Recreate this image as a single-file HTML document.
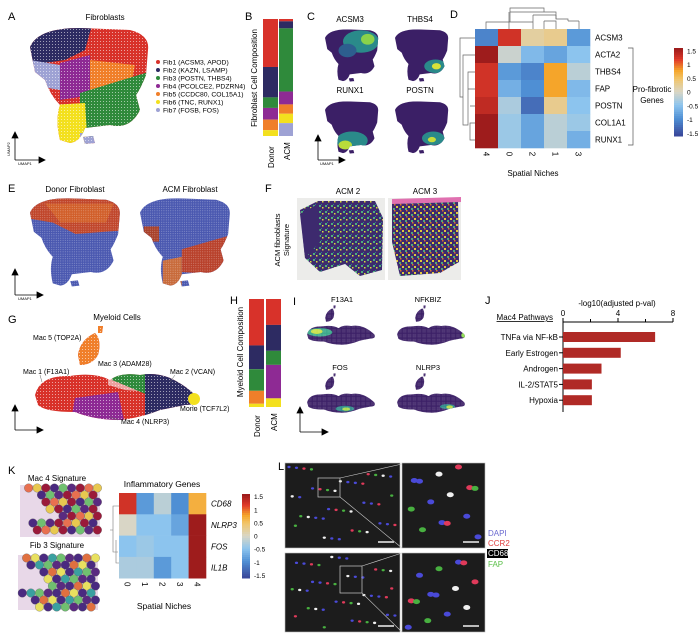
<!DOCTYPE html>
<html><head><meta charset="utf-8"><style>
html,body{margin:0;padding:0;background:#fff}
svg{display:block;font-family:"Liberation Sans",Arial,sans-serif}
</style></head><body>
<svg id="fig" width="700" height="639" viewBox="0 0 700 639">
<defs>
 <clipPath id="fibClip"><path id="fibShape" d="M0,22 Q8,3 50,3 L100,5 Q120,10 118,25 L116,50 Q110,65 106,70 L110,85 Q100,105 80,100 L55,103 Q50,117 40,118 L30,115 Q25,95 30,80 Q20,70 15,55 L5,47 Z M53,112 L63,111 L65,118 L55,119 Z"/></clipPath>
 <clipPath id="myeClip"><path d="M35,395 Q40,375 70,376 Q95,372 110,380 Q120,372 140,375 Q155,372 170,378 Q185,385 195,395 Q200,405 185,405 Q170,408 160,410 Q140,418 120,420 Q95,420 75,412 Q45,412 38,405 Z M78,355 Q80,340 95,333 Q102,340 98,355 Q92,365 80,365 Z M98,326 L103,326 L102,333 L98,333 Z"/></clipPath>
 <pattern id="speck" width="6" height="6" patternUnits="userSpaceOnUse"><rect width="6" height="6" fill="#3d2a6e"/><rect x="1" y="1" width="2" height="2" fill="#4fb07a"/><rect x="4" y="3" width="1.5" height="1.5" fill="#d9de3a"/><rect x="3" y="0" width="1" height="1" fill="#2a7e8e"/></pattern>
 <pattern id="speck2" width="6" height="6" patternUnits="userSpaceOnUse"><rect width="6" height="6" fill="#3d2a6e"/><rect x="0" y="2" width="2" height="2" fill="#e0c83a"/><rect x="3" y="4" width="2" height="2" fill="#52a878"/><rect x="4" y="0" width="1.5" height="1.5" fill="#e07030"/></pattern>
 <pattern id="dots" width="3" height="3" patternUnits="userSpaceOnUse"><rect width="3" height="3" fill="none"/><rect x="1" y="1" width="1" height="1" fill="#fff" opacity="0.55"/></pattern>
</defs>

<!-- Panel A -->
<g font-size="6.8">
 <text x="8" y="20" font-size="11">A</text>
 <text x="105" y="20" font-size="8" text-anchor="middle">Fibroblasts</text>
 <g transform="translate(30,25)" clip-path="url(#fibClip)">
  <rect x="0" y="0" width="125" height="125" fill="#d8322a"/>
  <path d="M0,0 L62,0 L55,25 L35,35 L0,40 Z" fill="#2d2b62"/>
  <path d="M0,35 L30,40 L30,65 L0,60 Z" fill="#9ea2d4"/>
  <path d="M30,38 L60,30 L62,70 L30,75 Z" fill="#8e2a94"/>
  <path d="M60,35 L105,40 L100,65 L60,70 Z" fill="#f07f2a"/>
  <path d="M50,68 L125,45 L125,125 L50,110 Z" fill="#2f8a3b"/>
  <path d="M20,80 L55,78 L58,125 L20,125 Z" fill="#f3e01e"/>
  <path d="M50,108 L70,108 L70,125 L50,125 Z" fill="#9ea2d4"/>
  <rect width="125" height="125" fill="url(#dots)"/>
 </g>
 <g>
  <circle cx="158" cy="62" r="2" fill="#d8322a"/><text x="163" y="64.5">Fib1 (ACSM3, APOD)</text>
  <circle cx="158" cy="70" r="2" fill="#2d2b62"/><text x="163" y="72.5">Fib2 (KAZN, LSAMP)</text>
  <circle cx="158" cy="78" r="2" fill="#2f8a3b"/><text x="163" y="80.5">Fib3 (POSTN, THBS4)</text>
  <circle cx="158" cy="86" r="2" fill="#8e2a94"/><text x="163" y="88.5">Fib4 (PCOLCE2, PDZRN4)</text>
  <circle cx="158" cy="94" r="2" fill="#f07f2a"/><text x="163" y="96.5">Fib5 (CCDC80, COL15A1)</text>
  <circle cx="158" cy="102" r="2" fill="#f3e01e"/><text x="163" y="104.5">Fib6 (TNC, RUNX1)</text>
  <circle cx="158" cy="110" r="2" fill="#9ea2d4"/><text x="163" y="112.5">Fib7 (FOSB, FOS)</text>
 </g>
 <g stroke="#000" stroke-width="0.8" fill="none">
  <path d="M15,160 L15,135 M15,160 L42,160"/><path d="M12,138 L15,132 L18,138 Z M39,157 L45,160 L39,163 Z" fill="#000"/>
 </g>
 <text x="18" y="165" font-size="4">UMAP1</text><text x="10" y="156" font-size="4" transform="rotate(-90 10 156)">UMAP2</text>
</g>

<!-- Panel B -->
<g>
 <text x="245" y="20" font-size="11">B</text>
 <text x="257" y="78" font-size="8" text-anchor="middle" transform="rotate(-90 257 78)">Fibroblast Cell Composition</text>
 <g id="barsB"></g>
 <text x="274" y="168" font-size="8" transform="rotate(-90 274 168)">Donor</text>
 <text x="290" y="160" font-size="8" transform="rotate(-90 290 160)">ACM</text>
</g>

<!-- Panel C -->
<g font-size="8">
 <text x="307" y="20" font-size="11">C</text>
 <text x="350" y="22" text-anchor="middle">ACSM3</text><text x="420" y="22" text-anchor="middle">THBS4</text>
 <text x="350" y="93" text-anchor="middle">RUNX1</text><text x="420" y="93" text-anchor="middle">POSTN</text>
 <g transform="translate(325,28) scale(0.45)" clip-path="url(#fibClip)">
  <rect width="125" height="125" fill="#3b1f66"/><ellipse cx="80" cy="30" rx="40" ry="25" fill="#2a8a8a"/><ellipse cx="95" cy="25" rx="15" ry="12" fill="#8ad24a"/><ellipse cx="50" cy="50" rx="20" ry="15" fill="#2d5e8e"/>
 </g>
 <g transform="translate(395,28) scale(0.45)" clip-path="url(#fibClip)">
  <rect width="125" height="125" fill="#3b1f66"/><ellipse cx="90" cy="85" rx="25" ry="15" fill="#2a8a8a"/><ellipse cx="92" cy="85" rx="10" ry="7" fill="#d8e23a"/>
 </g>
 <g transform="translate(325,100) scale(0.45)" clip-path="url(#fibClip)">
  <rect width="125" height="125" fill="#3b1f66"/><ellipse cx="60" cy="90" rx="35" ry="20" fill="#2a8a8a"/><ellipse cx="45" cy="100" rx="15" ry="10" fill="#b8dc3a"/>
 </g>
 <g transform="translate(395,100) scale(0.45)" clip-path="url(#fibClip)">
  <rect width="125" height="125" fill="#3b1f66"/><ellipse cx="85" cy="85" rx="25" ry="15" fill="#2a8a8a"/><ellipse cx="82" cy="88" rx="9" ry="6" fill="#c8dc3a"/>
 </g>
 <g stroke="#000" stroke-width="0.8" fill="none"><path d="M318,160 L318,138 M318,160 L342,160"/><path d="M315,141 L318,135 L321,141 Z M339,157 L345,160 L339,163 Z" fill="#000"/></g>
 <text x="320" y="165" font-size="4">UMAP1</text>
</g>

<!-- Panel D -->
<g>
 <text x="450" y="18" font-size="11">D</text>
 <g id="heatD"></g>
 <g stroke="#666" stroke-width="0.7" fill="none">
  <path d="M486,29 L486,22 L533,22 L533,29 M533,22 L533,15 M510,22 L510,12 L556,12 L556,19 M509,29 L509,12"/>
  <path d="M510,12 L510,8 L544,8 L544,12"/>
  <path d="M533,15 L556,15 M556,15 L556,19 L568,19 L568,21 M544,21 L556,21 L556,29 M579,21 L579,29 M568,21 L579,21 M544,21 L544,29"/>
  <path d="M475,38 L460,38 L460,97 L463,97 M475,55 L463,55 L463,125 L468,125 L468,72 L475,72 M468,89 L475,89 M470,106 L475,106 M470,140 L475,140 L470,140 L470,123 L475,123"/>
 </g>
 <path d="M628,48 L633,48 L633,145 L628,145" stroke="#555" fill="none" stroke-width="0.7"/>
 <text x="652" y="92" font-size="8" text-anchor="middle">Pro-fibrotic</text>
 <text x="652" y="103" font-size="8" text-anchor="middle">Genes</text>
 <text x="533" y="176" font-size="8" text-anchor="middle">Spatial Niches</text>
</g>

<!-- Panel E -->
<g font-size="8">
 <text x="8" y="192" font-size="11">E</text>
 <text x="75" y="192" text-anchor="middle">Donor Fibroblast</text>
 <text x="190" y="192" text-anchor="middle">ACM Fibroblast</text>
 <g transform="translate(30,196) scale(0.76)" clip-path="url(#fibClip)">
  <rect width="125" height="125" fill="#4a58b0"/><path d="M0,0 L125,0 L125,45 L60,50 L30,35 L0,30 Z" fill="#c0452a"/><path d="M20,10 L110,10 L100,35 L40,35 Z" fill="#d86a2a" opacity="0.7"/>
  <rect width="125" height="125" fill="url(#dots)"/>
 </g>
 <g transform="translate(140,196) scale(0.76)" clip-path="url(#fibClip)">
  <rect width="125" height="125" fill="#4a58b0"/><path d="M55,70 L125,50 L125,105 L55,100 Z" fill="#b8402a"/><path d="M5,40 L25,40 L25,60 L5,60 Z" fill="#a8402a"/><path d="M30,85 L55,80 L55,125 L30,125 Z" fill="#c86a3a"/>
  <rect width="125" height="125" fill="url(#dots)"/>
 </g>
 <g stroke="#000" stroke-width="0.8" fill="none"><path d="M15,295 L15,272 M15,295 L40,295"/><path d="M12,275 L15,269 L18,275 Z M37,292 L43,295 L37,298 Z" fill="#000"/></g>
 <text x="18" y="300" font-size="4">UMAP1</text>
</g>

<!-- Panel F -->
<g font-size="8">
 <text x="265" y="192" font-size="11">F</text>
 <text x="348" y="194" text-anchor="middle">ACM 2</text><text x="425" y="194" text-anchor="middle">ACM 3</text>
 <text x="280" y="240" text-anchor="middle" transform="rotate(-90 280 240)" font-size="7.5">ACM fibroblasts</text>
 <text x="289" y="240" text-anchor="middle" transform="rotate(-90 289 240)" font-size="7.5">Signature</text>
 <rect x="297" y="198" width="88" height="82" fill="#ececea"/>
 <path d="M300,210 L318,201 L375,201 L383,218 L382,270 L360,276 L345,264 L320,272 L305,258 Z" fill="url(#speck)"/>
 <path d="M300,214 L318,204 L320,242 L305,258 Z" fill="#3d2a6e"/>
 <rect x="388" y="198" width="73" height="82" fill="#ececea"/>
 <path d="M392,202 L458,200 L459,262 L440,273 L400,276 L392,242 Z" fill="url(#speck2)"/>
 <path d="M392,199 L461,197 L461,202 L392,204 Z" fill="#e070b0"/>
</g>

<!-- Panel G -->
<g font-size="7">
 <text x="8" y="323" font-size="11">G</text>
 <text x="117" y="320" text-anchor="middle" font-size="8">Myeloid Cells</text>
 <g clip-path="url(#myeClip)">
  <rect x="30" y="320" width="175" height="105" fill="#d8322a"/>
  <rect x="30" y="320" width="175" height="48" fill="#f07f2a"/>
  <path d="M75,398 L118,392 L125,425 L70,425 Z" fill="#8e2a94"/>
  <path d="M108,368 L148,368 L148,392 L125,390 L108,385 Z" fill="#ffffff" opacity="0.55"/>
  <path d="M112,368 L148,368 L148,395 L112,380 Z" fill="#2f8a3b"/>
  <path d="M145,368 L205,368 L205,425 L145,425 Z" fill="#2d2b62"/>
  <rect x="30" y="320" width="175" height="105" fill="url(#dots)"/>
 </g>
 <ellipse cx="194" cy="399" rx="6" ry="6" fill="#f3e01e"/>
 <g stroke="#666" stroke-width="0.5"><line x1="40" y1="375" x2="42" y2="382"/><line x1="175" y1="375" x2="170" y2="382"/><line x1="118" y1="420" x2="110" y2="417"/><line x1="192" y1="405" x2="196" y2="410"/></g>
 <text x="33" y="340">Mac 5 (TOP2A)</text>
 <text x="23" y="374">Mac 1 (F13A1)</text>
 <text x="98" y="366">Mac 3 (ADAM28)</text>
 <text x="170" y="374">Mac 2 (VCAN)</text>
 <text x="121" y="424">Mac 4 (NLRP3)</text>
 <text x="180" y="411">Mono (TCF7L2)</text>
 <g stroke="#000" stroke-width="0.8" fill="none"><path d="M15,430 L15,408 M15,430 L40,430"/><path d="M12,411 L15,405 L18,411 Z M37,427 L43,430 L37,433 Z" fill="#000"/></g>
</g>

<!-- Panel H -->
<g>
 <text x="230" y="304" font-size="11">H</text>
 <text x="243" y="352" font-size="8" text-anchor="middle" transform="rotate(-90 243 352)">Myeloid Cell Composition</text>
 <g id="barsH"></g>
 <text x="260" y="437" font-size="8" transform="rotate(-90 260 437)">Donor</text>
 <text x="277" y="431" font-size="8" transform="rotate(-90 277 431)">ACM</text>
</g>

<!-- Panel I -->
<g font-size="7.5">
 <text x="293" y="305" font-size="11">I</text>
 <text x="342" y="302" text-anchor="middle">F13A1</text><text x="428" y="302" text-anchor="middle">NFKBIZ</text>
 <text x="340" y="370" text-anchor="middle">FOS</text><text x="428" y="370" text-anchor="middle">NLRP3</text>
 <g id="miniI"></g>
 <g stroke="#000" stroke-width="0.8" fill="none"><path d="M300,432 L300,410 M300,432 L325,432"/><path d="M297,413 L300,407 L303,413 Z M322,429 L328,432 L322,435 Z" fill="#000"/></g>
</g>

<!-- Panel J -->
<g font-size="8">
 <text x="485" y="304" font-size="11">J</text>
 <text x="617" y="306" text-anchor="middle">-log10(adjusted p-val)</text>
 <text x="553" y="320" text-anchor="end" text-decoration="underline">Mac4 Pathways</text>
 <g id="chartJ"></g>
</g>

<!-- Panel K -->
<g font-size="8">
 <text x="8" y="474" font-size="11">K</text>
 <text x="57" y="481" text-anchor="middle">Mac 4 Signature</text>
 <text x="57" y="548" text-anchor="middle">Fib 3 Signature</text>
 <g id="hexK"></g>
 <text x="162" y="487" text-anchor="middle" font-size="8.5">Inflammatory Genes</text>
 <g id="heatK"></g>
 <path d="M119,506 L113,506 L113,552 L118,552 M113,530 L110,530 M116,540 L116,563 L119,563 L116,563 M116,552" stroke="#777" fill="none" stroke-width="0.6"/>
 <text x="164" y="609" text-anchor="middle" font-size="8.5">Spatial Niches</text>
</g>

<!-- Panel L -->
<g font-size="8">
 <text x="278" y="470" font-size="11">L.</text>
 <g id="micro"></g>
 <line x1="340" y1="478" x2="402" y2="464" stroke="#ccc" stroke-width="0.6"/>
 <line x1="340" y1="497" x2="402" y2="548" stroke="#ccc" stroke-width="0.6"/>
 <line x1="362" y1="566" x2="402" y2="553" stroke="#ccc" stroke-width="0.6"/>
 <line x1="362" y1="593" x2="402" y2="632" stroke="#ccc" stroke-width="0.6"/>
 <text x="488" y="536" fill="#6a6ad0">DAPI</text>
 <text x="488" y="546" fill="#e04040">CCR2</text>
 <rect x="487" y="549" width="21" height="9" fill="#000"/><text x="488" y="556" fill="#fff">CD68</text>
 <text x="488" y="567" fill="#5cc04a">FAP</text>
</g>
</svg>
<script>
const NS='http://www.w3.org/2000/svg';
function el(tag,attrs,parent){const e=document.createElementNS(NS,tag);for(const k in attrs)e.setAttribute(k,attrs[k]);parent.appendChild(e);return e;}
const cStops=[[-1.6,[58,74,156]],[-1.0,[79,143,212]],[-0.5,[140,196,238]],[0,[217,214,198]],[0.5,[242,196,104]],[0.8,[245,165,42]],[1.2,[224,58,42]],[1.6,[158,28,28]]];
function cmap(v){v=Math.max(-1.6,Math.min(1.6,v));for(let i=0;i<cStops.length-1;i++){const a=cStops[i],b=cStops[i+1];if(v<=b[0]){const t=(v-a[0])/(b[0]-a[0]);const c=a[1].map((x,j)=>Math.round(x+(b[1][j]-x)*t));return 'rgb('+c.join(',')+')';}}return 'rgb(158,28,28)';}

// ----- Panel B / H stacked bars
const compColors=['#d8322a','#2d2b62','#2f8a3b','#8e2a94','#f07f2a','#f3e01e','#9ea2d4'];
const fibDonor=[41,26,9,10,9,5,0];
const fibACM=[2,6,54,11,8,8,11];
const myeColors=['#d8322a','#2d2b62','#2f8a3b','#8e2a94','#f07f2a','#f3e01e'];
const myeDonor=[43,22,20,0,12,3];
const myeACM=[24,24,13,31,0,8];
function stack(parent,vals,colors,x,w,y0,h,name){const tot=vals.reduce((a,b)=>a+b,0);let y=y0;vals.forEach((v,i)=>{const hh=v/tot*h;const r=el('rect',{x:x,y:y,width:w,height:hh,fill:colors[i]},parent);


y+=hh;});}
const gB=document.getElementById('barsB');
stack(gB,fibDonor,compColors,263,15,19,117,'donor-fib');
stack(gB,fibACM,compColors,279,14,19,117,'acm-fib');
const gH=document.getElementById('barsH');
stack(gH,myeDonor,myeColors,249,15,299,108,'donor-myeloid');
stack(gH,myeACM,myeColors,266,15,299,108,'acm-myeloid');

function heat(parent,vals,rows,cols,x0,y0,cw,ch,rowStyle,prefix){
 vals.forEach((row,i)=>row.forEach((v,j)=>{const r=el('rect',{x:x0+j*cw,y:y0+i*ch,width:cw+0.3,height:ch+0.3,fill:cmap(v)},parent);
 
 }));
 rows.forEach((r,i)=>{const t=el('text',{x:x0+cols.length*cw+5,y:y0+i*ch+ch/2+3,'font-size':8,'font-style':rowStyle},parent);t.textContent=r;
 
 });
 cols.forEach((c,j)=>{const cx=x0+j*cw+cw/2,cy=y0+rows.length*ch+9;const t=el('text',{x:cx,y:cy,'font-size':8,'text-anchor':'middle',transform:'rotate(90 '+cx+' '+(cy-3)+')'},parent);t.textContent=c;
 
 });
}
const cbTicks=[1.5,1,0.5,0,-0.5,-1,-1.5];
const cbLabels=['1.5','1','0.5','0','-0.5','-1','-1.5'];
function colorbar(parent,x,y,w,h,prefix){
 const n=40;for(let i=0;i<n;i++){const v=1.6-3.2*i/(n-1);el('rect',{x:x,y:y+i*h/n,width:w,height:h/n+0.5,fill:cmap(v)},parent);}
 cbTicks.forEach((t,k)=>{const yy=y+(1.6-t)/3.2*h;const tx=el('text',{x:x+w+4,y:yy+2.5,'font-size':6.5},parent);tx.textContent=cbLabels[k];
 
 });
}

// ----- Panel D
const dRows=['ACSM3','ACTA2','THBS4','FAP','POSTN','COL1A1','RUNX1'];
const dCols=['4','0','2','1','3'];
const dVals=[
 [-1.1,1.3,0.2,0.3,-0.9],
 [1.6,-0.1,-0.6,-0.8,-0.5],
 [1.3,-0.9,-1.1,0.8,-0.2],
 [1.3,-0.7,-1.0,0.8,-0.6],
 [1.4,-0.3,-1.3,0.3,-0.5],
 [1.6,-0.4,-0.8,-0.2,-0.4],
 [1.6,-0.4,-0.8,-0.2,-0.7]];
const gD=document.getElementById('heatD');
heat(gD,dVals,dRows,dCols,475,29,23,17,'normal','d-heatmap');
colorbar(gD,674,48,9,88,'d');

// ----- Panel K
const kRows=['CD68','NLRP3','FOS','IL1B'];
const kCols=['0','1','2','3','4'];
const kVals=[
 [1.3,-0.9,-0.2,-1.0,0.7],
 [0.0,-0.5,-0.5,-0.8,1.6],
 [-0.5,-0.4,-0.5,-0.5,1.6],
 [-0.3,-0.3,-0.9,-0.5,1.6]];
const gK=document.getElementById('heatK');
heat(gK,kVals,kRows,kCols,119,493,17.4,21.3,'italic','k-heatmap');
colorbar(gK,242,494,8,84,'k');

// ----- Panel J bar chart
const jCats=['TNFa via NF-kB','Early Estrogen','Androgen','IL-2/STAT5','Hypoxia'];
const jVals=[6.7,4.2,2.8,2.1,2.1];
const jTicks=[0,4,8];
const gJ=document.getElementById('chartJ');
const jx=v=>563+v*(110/8);
const jy=i=>337+i*15.8;
el('line',{x1:jx(0),y1:322,x2:jx(8),y2:322,stroke:'#000','stroke-width':1},gJ);
el('line',{x1:jx(0),y1:322,x2:jx(0),y2:412,stroke:'#000','stroke-width':1},gJ);
jTicks.forEach(t=>{el('line',{x1:jx(t),y1:322,x2:jx(t),y2:318,stroke:'#000'},gJ);
 const tx=el('text',{x:jx(t),y:316,'text-anchor':'middle','font-size':8},gJ);tx.textContent=t;
 
 });
el('line',{x1:jx(2),y1:322,x2:jx(2),y2:319,stroke:'#000'},gJ);el('line',{x1:jx(6),y1:322,x2:jx(6),y2:319,stroke:'#000'},gJ);
jCats.forEach((c,i)=>{const b=el('rect',{x:jx(0),y:jy(i)-5,width:jx(jVals[i])-jx(0),height:10,fill:'#b02a26'},gJ);
 
 
 el('line',{x1:jx(0)-4,y1:jy(i),x2:jx(0),y2:jy(i),stroke:'#000'},gJ);
 const t=el('text',{x:jx(0)-5,y:jy(i)+3,'text-anchor':'end','font-size':8},gJ);t.textContent=c;
 
 });

// ----- Panel I mini UMAPs
const gI=document.getElementById('miniI');
const miniPos=[[305,305],[395,305],[305,373],[395,373]];
const miniHot=[[[65,390,30,10,'#3aa88a'],[58,388,14,6,'#c8e04a']],[[194,397,6,6,'#8adc4a']],[[125,410,22,7,'#2f8a8a'],[128,411,9,4,'#a8dc4a']],[[155,405,18,6,'#2f8a8a'],[160,406,8,4,'#b8dc4a']]];
miniPos.forEach((p,k)=>{const g=el('g',{transform:'translate('+p[0]+','+p[1]+') scale(0.42) translate(-30,-325)','clip-path':'url(#myeClip)'},gI);
 
 
 el('rect',{x:30,y:320,width:175,height:105,fill:'#3b1f66'},g);
 miniHot[k].forEach(h=>el('ellipse',{cx:h[0],cy:h[1],rx:h[2],ry:h[3],fill:h[4]},g));
 el('rect',{x:30,y:320,width:175,height:105,fill:'url(#dots)'},g);});

// ----- Panel K hex images
const gHex=document.getElementById('hexK');
function hexPanel(x,y,w,h,pal){el('rect',{x:x,y:y,width:w,height:h,fill:'#e8d8e8'},gHex);
 const r=4.3;let idx=0;
 for(let row=0;row*7<h+4;row++){for(let col=0;col*8.6<w+4;col++){const cx=x+col*8.6+(row%2?4.3:0),cy=y+row*7+3;
  const boundary=(cx-x)+(h-(cy-y))*1.1; if(boundary<w*0.75+((cy-y)<h*0.6?0:-40)) continue;
  if(cx>x+w-2||cy>y+h-2)continue; idx++;
  el('circle',{cx:cx,cy:cy,r:r,fill:pal[(idx*7+row*3+col*5)%pal.length],stroke:'#555','stroke-width':0.3},gHex);}}}
hexPanel(20,485,80,52,['#9a1a3a','#9a1a3a','#5a2a80','#e8c850','#70c070','#e87050','#4a2a80']);
hexPanel(18,555,80,55,['#4a2a80','#4a2a80','#5a2a80','#e8e060','#70c070','#e07040','#3aa0a0']);

// ----- Panel L micrographs
const gM=document.getElementById('micro');
const imgs=[[285,463,115,85],[402,463,83,85],[285,553,115,79],[402,553,83,79]];
imgs.forEach((b,k)=>{const g=el('g',{},gM);
 
 
 el('rect',{x:b[0],y:b[1],width:b[2],height:b[3],fill:'#1c1c1c',stroke:'#bbb','stroke-width':0.6},g);
 const n=k%2?14:40;
 for(let i=0;i<n;i++){const px=b[0]+4+((i*37+k*11)%100)/100*(b[2]-8),py=b[1]+4+((i*53+k*17)%97)/97*(b[3]-8);
  const cols=['#4a4ad8','#4a4ad8','#e03a5a','#48b040','#f0f0f0'];
  el('ellipse',{cx:px,cy:py,rx:k%2?3.5:1.6,ry:k%2?2.5:1.2,fill:cols[i%5]},g);}
 el('rect',{x:b[0]+b[2]-22,y:b[1]+b[3]-7,width:16,height:2,fill:'#bbb'},g);});
el('rect',{x:318,y:478,width:22,height:19,fill:'none',stroke:'#ccc','stroke-width':0.7},gM);
el('rect',{x:340,y:566,width:22,height:27,fill:'none',stroke:'#ccc','stroke-width':0.7},gM);
</script>
</body></html>
